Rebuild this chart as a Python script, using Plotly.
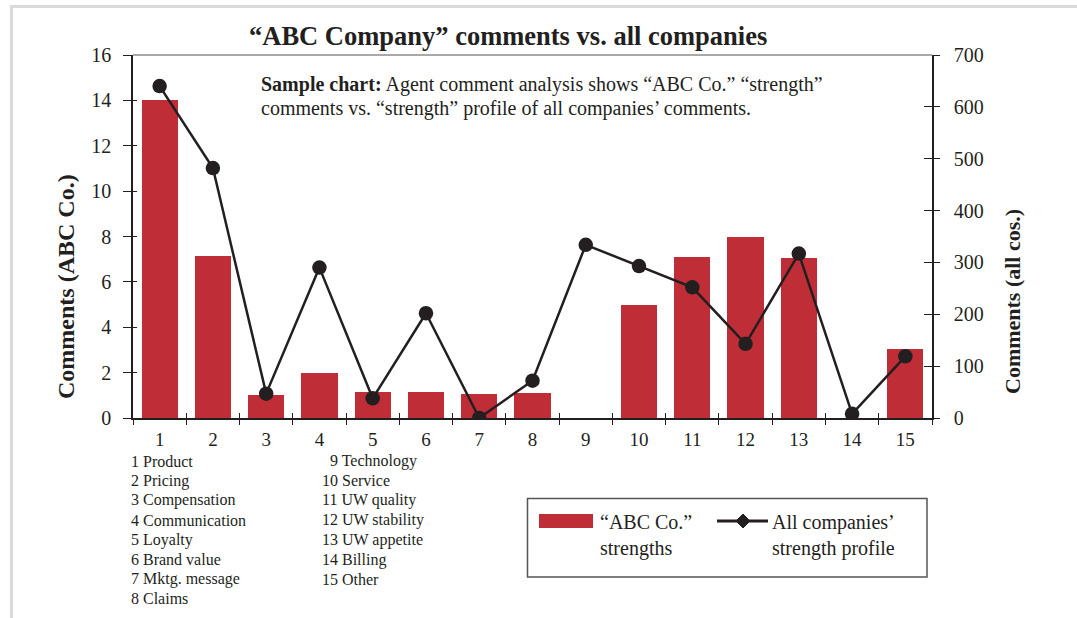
import plotly.graph_objects as go

categories = list(range(1, 16))
category_names = ["Product", "Pricing", "Compensation", "Communication", "Loyalty",
                  "Brand value", "Mktg. message", "Claims", "Technology", "Service",
                  "UW quality", "UW stability", "UW appetite", "Billing", "Other"]
abc_strengths = [14.0, 7.15, 1.0, 2.0, 1.13, 1.16, 1.07, 1.11, 0, 5.0, 7.1, 8.0, 7.05, 0, 3.05]
all_companies = [640, 482, 47, 290, 38, 202, 0, 72, 334, 293, 252, 143, 317, 8, 119]
left_ticks = list(range(0, 17, 2))
right_ticks = list(range(0, 701, 100))

W, H = 1077, 618
ML, MR, MT, MB = 133, 145, 55, 200
PW, PH = W - ML - MR, H - MT - MB

def px(x):
    return (x - ML) / PW

def py(y):
    return (H - MB - y) / PH

FONT = "Liberation Serif"
INK = "#231f20"
RED = "#bf2d37"

fig = go.Figure()
fig.add_trace(go.Bar(x=categories, y=abc_strengths, width=0.68, marker=dict(color=RED, line=dict(width=0)),
                     name="“ABC Co.” strengths", yaxis="y"))
fig.add_trace(go.Scatter(x=categories, y=all_companies, mode="lines+markers", yaxis="y2",
                         line=dict(color=INK, width=2.5), marker=dict(color=INK, size=14.5, symbol="circle"),
                         name="All companies’ strength profile"))
# empty traces so the overlay tick axes get drawn
fig.add_trace(go.Scatter(x=[], y=[], xaxis="x2", yaxis="y3", showlegend=False, hoverinfo="skip"))
fig.add_trace(go.Scatter(x=[], y=[], xaxis="x3", yaxis="y4", showlegend=False, hoverinfo="skip"))

axfont = dict(family=FONT, size=20, color=INK)
boundaries = [c - 0.5 for c in categories] + [categories[-1] + 0.5]

fig.update_layout(
    width=W, height=H, margin=dict(l=ML, r=MR, t=MT, b=MB),
    paper_bgcolor="white", plot_bgcolor="white", showlegend=False, bargap=0,
    font=dict(family=FONT, color=INK),
    xaxis=dict(range=[0.5, 15.5], tickvals=categories, ticktext=[str(c) for c in categories],
               ticks="", showline=True, linecolor=INK, linewidth=1.5, showgrid=False, zeroline=False,
               tickfont=dict(family=FONT, size=19, color=INK), ticklabelstandoff=3, anchor="y"),
    xaxis2=dict(range=[0.5, 15.5], overlaying="x", anchor="y", side="bottom", tickvals=boundaries,
                ticks="outside", ticklen=6, tickwidth=1.3, tickcolor=INK, showticklabels=False,
                showline=False, showgrid=False, zeroline=False),
    xaxis3=dict(range=[0.5, 15.5], overlaying="x", anchor="y", side="bottom", tickvals=boundaries,
                ticks="inside", ticklen=5, tickwidth=1.3, tickcolor=INK, showticklabels=False,
                showline=False, showgrid=False, zeroline=False),
    yaxis=dict(range=[0, 16], tickvals=left_ticks, ticks="outside", ticklen=8, tickwidth=1.3, tickcolor=INK,
               showline=True, linecolor=INK, linewidth=1.5, showgrid=False, zeroline=False,
               tickfont=axfont, ticklabelstandoff=8, anchor="x"),
    yaxis3=dict(range=[0, 16], overlaying="y", anchor="x", side="left", tickvals=left_ticks,
                ticks="inside", ticklen=4, tickwidth=1.3, tickcolor=INK, showticklabels=False,
                showline=False, showgrid=False, zeroline=False),
    yaxis2=dict(range=[0, 700], overlaying="y", anchor="x", side="right", tickvals=right_ticks,
                ticks="outside", ticklen=6, tickwidth=1.3, tickcolor=INK, showline=True, linecolor=INK,
                linewidth=1.5, showgrid=False, zeroline=False, tickfont=axfont, ticklabelstandoff=10),
    yaxis4=dict(range=[0, 700], overlaying="y", anchor="x", side="right", tickvals=right_ticks,
                ticks="inside", ticklen=8, tickwidth=1.3, tickcolor=INK, showticklabels=False,
                showline=False, showgrid=False, zeroline=False),
)

shapes = []
# outer frame
shapes.append(dict(type="line", xref="paper", yref="paper", x0=px(11), x1=px(W), y0=py(6.5), y1=py(6.5),
                   line=dict(color="#dadada", width=3)))
shapes.append(dict(type="line", xref="paper", yref="paper", x0=px(11.5), x1=px(11.5), y0=py(5), y1=py(H),
                   line=dict(color="#dadada", width=3)))
# top border of plot
shapes.append(dict(type="line", xref="paper", yref="paper", x0=0, x1=1, y0=1, y1=1,
                   line=dict(color="#8c8c8c", width=1.5)))
# legend box
shapes.append(dict(type="rect", xref="paper", yref="paper", x0=px(527.5), x1=px(927), y0=py(498.5), y1=py(577),
                   line=dict(color="#555555", width=1.5), fillcolor="rgba(0,0,0,0)"))
shapes.append(dict(type="rect", xref="paper", yref="paper", x0=px(539), x1=px(593), y0=py(514), y1=py(528),
                   line=dict(width=0), fillcolor=RED))
shapes.append(dict(type="line", xref="paper", yref="paper", x0=px(717), x1=px(768), y0=py(521), y1=py(521),
                   line=dict(color=INK, width=3)))
dx, dy = 7, 7
shapes.append(dict(type="path", xref="paper", yref="paper",
                   path=f"M {px(743-dx)} {py(521)} L {px(743)} {py(521-dy)} L {px(743+dx)} {py(521)} L {px(743)} {py(521+dy)} Z",
                   line=dict(color=INK, width=1), fillcolor=INK))
fig.update_layout(shapes=shapes)

ann = []
def text(x, y, s, size, xanchor="left", yanchor="middle", angle=0, align="left"):
    ann.append(dict(xref="paper", yref="paper", x=px(x), y=py(y), text=s, showarrow=False,
                    xanchor=xanchor, yanchor=yanchor, textangle=angle, align=align,
                    font=dict(family=FONT, size=size, color=INK)))

text(508, 36, "<b>“ABC Company” comments vs. all companies</b>", 26.5, xanchor="center")
text(259, 84, "<b>Sample chart:</b> Agent comment analysis shows “ABC Co.” “strength”", 20)
text(259, 108, "comments vs. “strength” profile of all companies’ comments.", 20)
text(66, 287, "<b>Comments (ABC Co.)</b>", 24, xanchor="center", angle=-90)
text(1012, 302, "<b>Comments (all cos.)</b>", 22, xanchor="center", angle=-90)

# category key
for i, (c, n) in enumerate(zip(categories, category_names)):
    if c <= 8:
        text(129, 461 + 19.7 * i, f"{c} {n}", 16)
    else:
        pad = "\u2002" if c < 10 else ""
        text(320, 461 + 19.7 * (c - 9), f"{pad}{c} {n}", 16)

# legend text
text(598, 535, "“ABC Co.”<br>strengths", 20)
text(770, 535, "All companies’<br>strength profile", 20)
fig.update_layout(annotations=ann)

fig.write_html("out.html")
